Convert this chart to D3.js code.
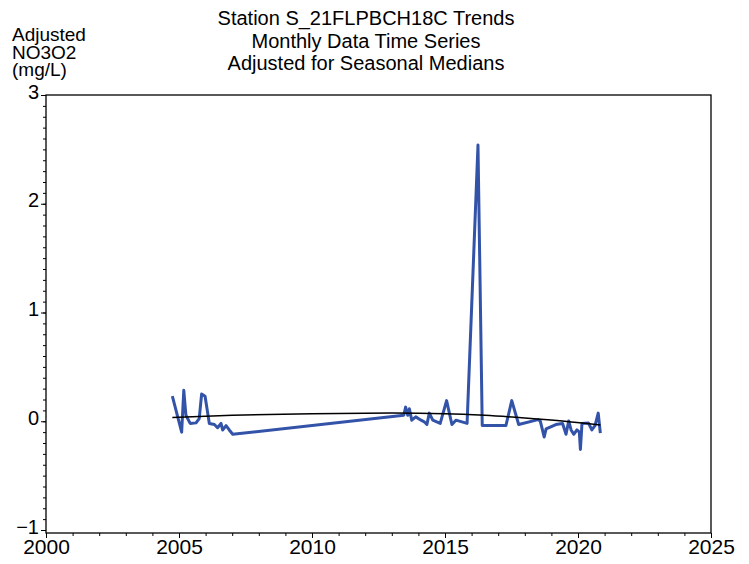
<!DOCTYPE html>
<html>
<head>
<meta charset="utf-8">
<script src="https://cdn.jsdelivr.net/npm/d3@7"></script>
<style>
  body { margin: 0; background: #fff; }
  text { font-family: "Liberation Sans", Arial, sans-serif; fill: #000; }
</style>
</head>
<body>
<svg id="chart" width="749" height="564"></svg>
<script>
const titleLines = ["Station S_21FLPBCH18C Trends", "Monthly Data Time Series", "Adjusted for Seasonal Medians"];
const yLabelLines = ["Adjusted", "NO3O2", "(mg/L)"];

const xTicks = [2000, 2005, 2010, 2015, 2020, 2025];
const yTicks = [-1, 0, 1, 2, 3];

// decimal year / adjusted value
const obsYears = [2004.75, 2005.1, 2005.18, 2005.26, 2005.42, 2005.64, 2005.76, 2005.85, 2005.98, 2006.14,
  2006.33, 2006.45, 2006.58, 2006.64, 2006.77, 2006.89, 2007.02,
  2013.45, 2013.52, 2013.6, 2013.66, 2013.75, 2013.9, 2014.1, 2014.22, 2014.32, 2014.41, 2014.54,
  2014.82, 2015.06, 2015.26, 2015.41, 2015.83, 2016.24, 2016.4, 2017.29, 2017.51, 2017.77,
  2018.5, 2018.58, 2018.73, 2018.8, 2019.17, 2019.42, 2019.55, 2019.65, 2019.74, 2019.84,
  2019.96, 2020.05, 2020.09, 2020.15, 2020.39, 2020.52, 2020.64, 2020.76, 2020.84];
const obsValues = [0.23, -0.1, 0.285, 0.055, -0.02, -0.015, 0.025, 0.25, 0.23, -0.02,
  -0.03, -0.06, -0.02, -0.08, -0.04, -0.08, -0.12,
  0.055, 0.13, 0.055, 0.115, 0.01, 0.04, 0.01, -0.005, -0.03, 0.075, 0.01,
  -0.02, 0.19, -0.03, 0.01, -0.02, 2.54, -0.04, -0.04, 0.19, -0.03,
  0.015, 0.003, -0.145, -0.07, -0.03, -0.02, -0.12, 0.003, -0.08, -0.12,
  -0.08, -0.1, -0.26, -0.02, -0.015, -0.08, -0.04, 0.075, -0.11];

const trendYears = [2004.75, 2007, 2010, 2013, 2015, 2016.5, 2018, 2019.5, 2020.84];
const trendValues = [0.035, 0.055, 0.07, 0.075, 0.07, 0.055, 0.03, 0.0, -0.035];

const svg = d3.select("#chart");
const margin = { top: 95, right: 38, bottom: 34, left: 46 };
const width = +svg.attr("width");
const height = +svg.attr("height");

const x = d3.scaleLinear().domain([2000, 2025]).range([margin.left, width - margin.right]);
const y = d3.scaleLinear().domain([-1, 3]).range([height - margin.bottom, margin.top]);

// frame
svg.append("rect")
  .attr("x", x(2000)).attr("y", y(3))
  .attr("width", x(2025) - x(2000)).attr("height", y(-1) - y(3) + 3)
  .attr("fill", "none").attr("stroke", "#000").attr("stroke-width", 1.3);

// minor ticks
svg.append("g")
  .attr("transform", `translate(0,${y(-1) + 3})`)
  .call(d3.axisBottom(x).ticks(25).tickSize(3).tickFormat(""))
  .call(g => g.select(".domain").remove());
svg.append("g")
  .attr("transform", `translate(${x(2000)},0)`)
  .call(d3.axisLeft(y).ticks(40).tickSize(3).tickFormat(""))
  .call(g => g.select(".domain").remove());

// major axes
const xAxis = svg.append("g")
  .attr("transform", `translate(0,${y(-1) + 3})`)
  .call(d3.axisBottom(x).tickValues(xTicks).tickSize(5).tickFormat(d3.format("d")));
xAxis.select(".domain").remove();
xAxis.selectAll("text").attr("font-size", 21).attr("y", 4).attr("dy", "0.8em");

const yAxis = svg.append("g")
  .attr("transform", `translate(${x(2000)},0)`)
  .call(d3.axisLeft(y).tickValues(yTicks).tickSize(5).tickFormat(d3.format("d")));
yAxis.select(".domain").remove();
yAxis.selectAll("text").attr("font-size", 20).attr("x", -7).attr("dy", "0.15em");
svg.selectAll(".tick line").attr("stroke", "#000");

// observed series
const obs = obsYears.map((yr, i) => ({ yr, v: obsValues[i] }));
svg.append("path")
  .datum(obs)
  .attr("fill", "none")
  .attr("stroke", "#3353a8")
  .attr("stroke-width", 3)
  .attr("stroke-linejoin", "round")
  .attr("d", d3.line().x(d => x(d.yr)).y(d => y(d.v)));

// trend
const trend = trendYears.map((yr, i) => ({ yr, v: trendValues[i] }));
svg.append("path")
  .datum(trend)
  .attr("fill", "none")
  .attr("stroke", "#000")
  .attr("stroke-width", 1.5)
  .attr("d", d3.line().curve(d3.curveMonotoneX).x(d => x(d.yr)).y(d => y(d.v)));

// titles
svg.append("g").selectAll("text")
  .data(titleLines).enter().append("text")
  .attr("x", 366).attr("y", (d, i) => 25 + i * 22.5)
  .attr("text-anchor", "middle").attr("font-size", 20)
  .text(d => d);

svg.append("g").selectAll("text")
  .data(yLabelLines).enter().append("text")
  .attr("x", 12).attr("y", (d, i) => 41 + i * 17.5)
  .attr("font-size", 19)
  .text(d => d);
</script>
</body>
</html>
